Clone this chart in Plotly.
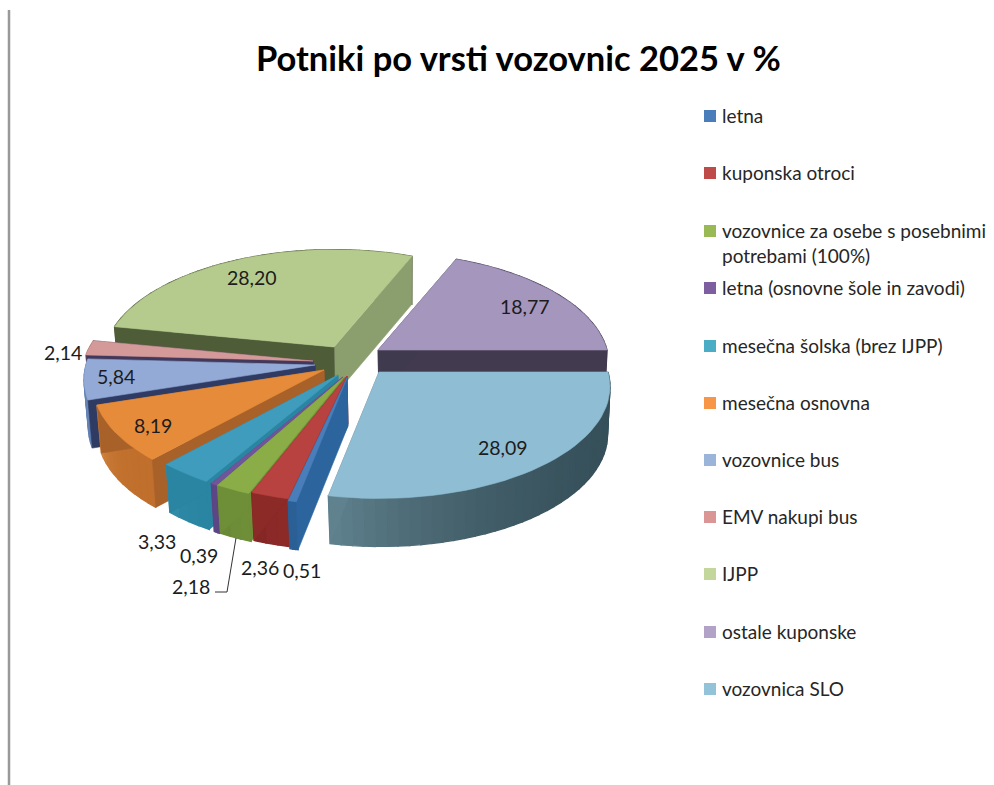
import math
import plotly.graph_objects as go

# ---- data (clockwise from the east edge of the pie) ----
categories = ["vozovnica SLO", "letna", "kuponska otroci",
              "vozovnice za osebe s posebnimi<br>potrebami (100%)",
              "letna (osnovne šole in zavodi)", "mesečna šolska (brez IJPP)",
              "mesečna osnovna", "vozovnice bus", "EMV nakupi bus", "IJPP", "ostale kuponske"]
values = [28.09, 0.51, 2.36, 2.18, 0.39, 3.33, 8.19, 5.84, 2.14, 28.20, 18.77]
legend_order = ["letna", "kuponska otroci",
                "vozovnice za osebe s posebnimi<br>potrebami (100%)",
                "letna (osnovne šole in zavodi)", "mesečna šolska (brez IJPP)",
                "mesečna osnovna", "vozovnice bus", "EMV nakupi bus", "IJPP",
                "ostale kuponske", "vozovnica SLO"]
title_text = "Potniki po vrsti vozovnic 2025 v %"

# ---- drawing style ----
RX, RY, K, DEPTH = 229, 110, 0.13, 48
#          top, legend, wall near, wall far, start face, end face, apex x, y
STYLE = {
    "vozovnica SLO":   ("#8FBDD3", "#93C3D8", "#36505A", "#60828F", "#36505A", "#60828F", 379, 372),
    "letna":           ("#4A7EBB", "#4A7EBB", "#2B6096", "#2B6096", "#2C659E", "#2B6096", 347, 378),
    "kuponska otroci": ("#B8423F", "#BE4B48", "#8C2A28", "#7E2523", "#8C2A28", "#8C2A28", 347, 376),
    "vozovnice za osebe s posebnimi<br>potrebami (100%)":
                       ("#8AAD48", "#98B954", "#6E8E38", "#668534", "#6E8E38", "#6E8E38", 344, 377),
    "letna (osnovne šole in zavodi)":
                       ("#6F569B", "#7D5FA0", "#5C4684", "#5C4684", "#5C4684", "#5C4684", 343, 377),
    "mesečna šolska (brez IJPP)":
                       ("#3F9CBC", "#4BACC6", "#2A85A2", "#338FAB", "#2A85A2", "#2A85A2", 338, 375),
    "mesečna osnovna": ("#E58B3A", "#F79646", "#C06F2C", "#D08540", "#A9612A", "#A9612A", 324, 370),
    "vozovnice bus":   ("#93AAD6", "#9BB5DA", "#5F7FB0", "#7C97C4", "#2F3B63", "#2F3B63", 315, 365),
    "EMV nakupi bus":  ("#D49A99", "#DA9694", "#B07573", "#B07573", "#43385A", "#43385A", 313, 361),
    "IJPP":            ("#B5CB8E", "#C3D69B", "#4F5C38", "#4F5C38", "#4F5C38", "#8A9E6E", 334, 347),
    "ostale kuponske": ("#A596BE", "#B3A2C7", "#423A4F", "#423A4F", "#3F3A4D", "#423A4F", 378, 350),
}
DRAW_ORDER = ["ostale kuponske", "vozovnica SLO", "IJPP", "EMV nakupi bus", "vozovnice bus",
              "mesečna osnovna", "mesečna šolska (brez IJPP)",
              "letna (osnovne šole in zavodi)",
              "vozovnice za osebe s posebnimi<br>potrebami (100%)",
              "kuponska otroci", "letna"]
LABEL_POS = {
    "vozovnica SLO": (503, 447), "letna": (302, 570), "kuponska otroci": (260, 567),
    "vozovnice za osebe s posebnimi<br>potrebami (100%)": (191, 586),
    "letna (osnovne šole in zavodi)": (199, 555), "mesečna šolska (brez IJPP)": (157, 541),
    "mesečna osnovna": (153, 425), "vozovnice bus": (116, 376), "EMV nakupi bus": (63, 352),
    "IJPP": (252, 277), "ostale kuponske": (525, 306),
}
FONT = "Lato"


def project(angle, apex, r=1.0, low=False):
    """Map a point of the pie disc to the picture with a perspective tilt."""
    u, v = r * math.cos(angle), r * math.sin(angle)
    w = 1 - K * v
    x, y = RX * u / w, RY * v / w
    if low:
        return apex[0] + x * 0.985 + 1, apex[1] + y + DEPTH
    return apex[0] + x, apex[1] + y


def mix(a, b, t):
    ca = [int(a[i:i + 2], 16) for i in (1, 3, 5)]
    cb = [int(b[i:i + 2], 16) for i in (1, 3, 5)]
    return "#%02X%02X%02X" % tuple(round(p + (q - p) * t) for p, q in zip(ca, cb))


fig = go.Figure()


def poly(points, color, name, width=0.6):
    xs = [p[0] for p in points] + [points[0][0]]
    ys = [p[1] for p in points] + [points[0][1]]
    fig.add_trace(go.Scatter(x=xs, y=ys, mode="lines", fill="toself", fillcolor=color,
                             line=dict(color=color, width=width), name=name,
                             hoverinfo="skip", showlegend=False))


# angular extents come from the values
spans, cum = {}, 0.0
total = sum(values)
for cat, val in zip(categories, values):
    start = cum / total * 2 * math.pi
    cum += val
    spans[cat] = (start, cum / total * 2 * math.pi)

for cat in DRAW_ORDER:
    top, _, wall_near, wall_far, f_start, f_end, ax, ay = STYLE[cat]
    apex = (ax, ay)
    a0, a1 = spans[cat]
    n = max(3, int((a1 - a0) / math.radians(2.5)))
    angs = [a0 + (a1 - a0) * i / n for i in range(n + 1)]
    # outer wall, shaded band by band
    for i in range(n):
        p, q = angs[i], angs[i + 1]
        t = ((i + 0.5) / n) ** 3
        poly([project(p, apex), project(q, apex), project(q, apex, low=True), project(p, apex, low=True)],
             mix(wall_near, wall_far, t), cat, width=1.4)
    # cut faces
    poly([project(a1, apex, 0), project(a1, apex), project(a1, apex, low=True), project(a1, apex, 0, True)], f_end, cat)
    poly([project(a0, apex, 0), project(a0, apex), project(a0, apex, low=True), project(a0, apex, 0, True)], f_start, cat)
    # top surface
    poly([project(0, apex, 0)] + [project(t, apex) for t in angs], top, cat)

# data labels
for cat, val in zip(categories, values):
    x, y = LABEL_POS[cat]
    fig.add_annotation(x=x, y=y, text=f"{val:.2f}".replace(".", ","), showarrow=False,
                       font=dict(family=FONT, size=19.5, color="#1c1c1c"))

# leader line of the 2,18 label
fig.add_trace(go.Scatter(x=[236, 227, 215], y=[538, 592, 592], mode="lines",
                         line=dict(color="#333333", width=1), hoverinfo="skip", showlegend=False))

# legend
legend_y = [116, 173, 231, 288, 346, 403, 460, 517, 574, 632, 689]
for cat, y in zip(legend_order, legend_y):
    color = STYLE[cat][1]
    fig.add_trace(go.Scatter(x=[710], y=[y], mode="markers",
                             marker=dict(symbol="square", size=12, color=color),
                             name=cat.replace("<br>", " "), hoverinfo="skip", showlegend=False))
    fig.add_annotation(x=721, y=y - 13, yanchor="top", xanchor="left", align="left", text=cat,
                       showarrow=False, borderpad=0, font=dict(family=FONT, size=19, color="#262626"))

fig.add_shape(type="line", x0=9, x1=9, y0=10, y1=785, line=dict(color="#999999", width=2.5))

fig.add_annotation(x=518, y=57, text=f"<b>{title_text}</b>", showarrow=False,
                   font=dict(family=FONT, size=34.5, color="#000000"))

fig.update_layout(width=994, height=785, margin=dict(l=0, r=0, t=0, b=0),
                  paper_bgcolor="white", plot_bgcolor="white", showlegend=False,
                  xaxis=dict(range=[0, 994], visible=False, fixedrange=True),
                  yaxis=dict(range=[785, 0], visible=False, fixedrange=True))

fig.write_html("out.html", post_script="document.body.style.margin='0';document.body.style.overflow='hidden';",
               config={"displayModeBar": False})
